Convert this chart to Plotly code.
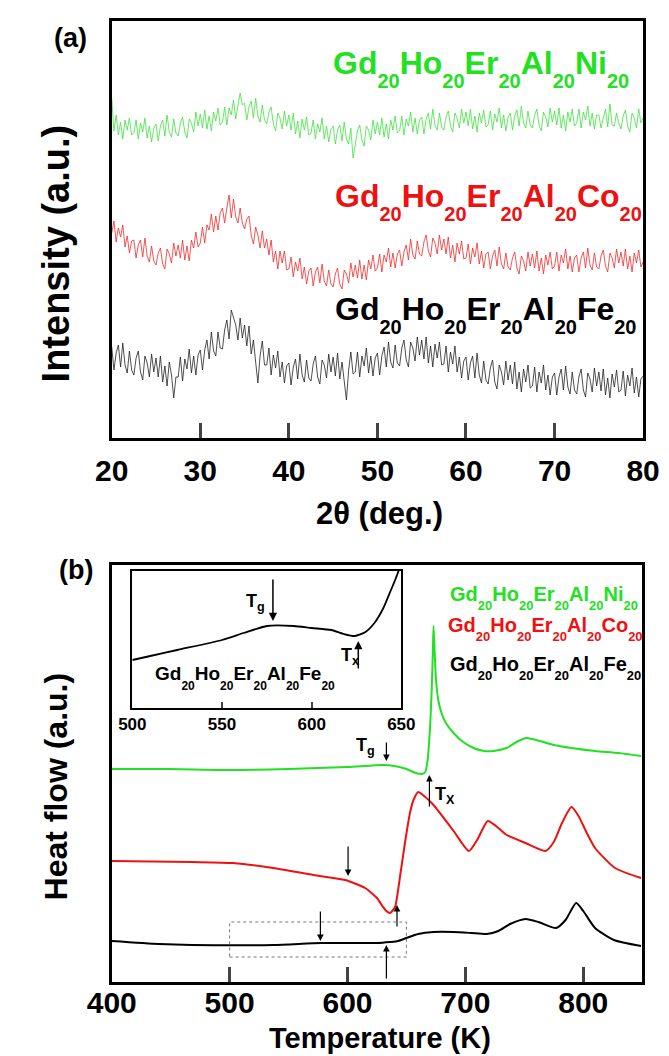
import plotly.graph_objects as go

# ---------------- (a) XRD data ----------------
two_theta = [20 + 0.25 * i for i in range(241)]  # measurement grid 20..80 deg, step 0.25

xrd_ni = [
    340, 307, 323, 303, 316, 299, 318, 308, 320, 303,
    305, 318, 299, 315, 306, 320, 300, 312, 296, 310,
    314, 297, 312, 318, 302, 323, 306, 301, 319, 305,
    302, 315, 321, 306, 300, 319, 315, 306, 326, 312,
    324, 310, 328, 309, 322, 307, 326, 317, 330, 313,
    316, 331, 313, 330, 323, 338, 319, 333, 345, 333,
    335, 318, 331, 337, 320, 340, 322, 316, 333, 318,
    314, 326, 331, 314, 307, 325, 320, 309, 327, 312,
    323, 308, 325, 304, 317, 300, 319, 308, 321, 303,
    305, 318, 299, 314, 306, 320, 299, 312, 296, 309,
    312, 294, 308, 313, 297, 316, 299, 294, 310, 280,
    293, 307, 313, 298, 292, 312, 308, 298, 318, 304,
    316, 303, 320, 301, 314, 299, 318, 308, 322, 305,
    307, 322, 303, 319, 312, 326, 306, 320, 304, 318,
    321, 304, 319, 325, 309, 329, 313, 308, 325, 311,
    308, 321, 327, 312, 306, 325, 320, 310, 329, 315,
    326, 312, 329, 309, 322, 306, 325, 315, 328, 311,
    313, 327, 308, 324, 316, 330, 310, 323, 307, 321,
    325, 308, 322, 328, 312, 332, 315, 310, 327, 313,
    310, 323, 329, 313, 307, 326, 321, 311, 330, 316,
    327, 313, 330, 310, 323, 307, 326, 316, 329, 312,
    315, 329, 310, 326, 318, 332, 312, 325, 309, 323,
    323, 310, 320, 329, 311, 334, 313, 312, 325, 315,
    309, 322, 328, 312, 306, 325, 320, 310, 329, 315,
    320,
]

xrd_co = [
    205, 217, 196, 210, 201, 213, 191, 202, 185, 197,
    198, 180, 193, 198, 181, 200, 182, 176, 192, 177,
    173, 185, 190, 174, 169, 189, 184, 175, 195, 182,
    193, 180, 198, 178, 192, 177, 198, 190, 206, 191,
    195, 211, 195, 213, 208, 224, 206, 222, 208, 225,
    230, 215, 230, 243, 220, 239, 221, 215, 230, 215,
    209, 219, 222, 203, 194, 211, 203, 190, 207, 190,
    199, 183, 198, 176, 187, 169, 187, 175, 187, 168,
    169, 181, 161, 176, 167, 180, 159, 171, 154, 167,
    170, 152, 166, 171, 155, 174, 157, 152, 168, 154,
    151, 164, 170, 154, 149, 168, 164, 155, 175, 161,
    173, 160, 178, 159, 173, 158, 178, 169, 183, 167,
    170, 184, 166, 183, 176, 190, 171, 185, 170, 184,
    188, 172, 186, 193, 178, 199, 183, 179, 197, 184,
    182, 196, 203, 187, 181, 200, 195, 184, 203, 188,
    199, 184, 201, 180, 193, 176, 195, 184, 197, 179,
    180, 194, 174, 190, 181, 195, 174, 187, 170, 184,
    186, 169, 182, 188, 172, 191, 174, 169, 185, 171,
    168, 180, 186, 170, 164, 182, 177, 167, 186, 172,
    184, 170, 187, 167, 180, 164, 183, 173, 186, 169,
    172, 186, 167, 183, 175, 189, 169, 182, 166, 180,
    183, 166, 180, 186, 170, 190, 173, 168, 185, 171,
    169, 182, 188, 172, 166, 185, 180, 170, 189, 175,
    186, 172, 189, 169, 182, 166, 185, 175, 188, 171,
    176,
]

xrd_fe = [
    91, 68, 85, 93, 71, 95, 73, 65, 87, 68,
    63, 80, 87, 66, 58, 82, 75, 61, 84, 66,
    80, 61, 82, 56, 72, 52, 76, 63, 40, 61,
    61, 81, 57, 79, 69, 89, 65, 82, 63, 83,
    88, 68, 88, 98, 79, 106, 87, 82, 106, 90,
    89, 108, 118, 99, 128, 119, 113, 98, 120, 100,
    113, 92, 112, 84, 98, 76, 55, 82, 97, 73,
    73, 90, 63, 83, 70, 87, 61, 76, 55, 72,
    75, 53, 71, 79, 59, 84, 63, 56, 78, 60,
    57, 74, 82, 61, 54, 78, 73, 60, 84, 66,
    81, 62, 85, 59, 76, 57, 38, 68, 86, 64,
    66, 86, 61, 82, 72, 90, 65, 82, 62, 80,
    85, 63, 82, 91, 71, 96, 76, 70, 93, 75,
    72, 90, 98, 78, 71, 96, 90, 77, 101, 83,
    98, 79, 101, 75, 92, 71, 94, 80, 96, 73,
    74, 92, 66, 86, 74, 92, 66, 81, 60, 77,
    81, 58, 75, 82, 60, 85, 63, 55, 77, 58,
    54, 70, 78, 56, 49, 73, 66, 53, 77, 58,
    73, 54, 76, 49, 66, 46, 69, 56, 73, 50,
    52, 71, 46, 66, 55, 73, 48, 63, 43, 61,
    65, 43, 61, 69, 48, 72, 51, 44, 66, 48,
    44, 61, 69, 48, 41, 65, 59, 46, 70, 52,
    66, 47, 69, 43, 60, 40, 64, 51, 68, 46,
    48, 67, 42, 63, 52, 70, 45, 61, 41, 59,
    62,
]

# ---------------- (b) DSC data ----------------
t_ni = [400, 450, 500, 550, 600, 630, 640, 650, 658, 663, 666, 668, 670, 671.5, 672.5, 673,
        674, 675, 677, 680, 684, 690, 697, 707, 716, 724, 735, 745, 752, 760, 775, 790, 810, 830, 849]
hf_ni = [2.13, 2.13, 2.12, 2.13, 2.15, 2.17, 2.16, 2.13, 2.09, 2.08, 2.10, 2.22, 2.54, 2.94, 3.34, 3.56,
         3.29, 3.04, 2.82, 2.68, 2.58, 2.49, 2.41, 2.34, 2.31, 2.31, 2.34, 2.41, 2.44, 2.42, 2.37, 2.34, 2.31, 2.29, 2.26]

t_co = [400, 468, 503, 537, 571, 598, 615, 625, 629, 633, 636, 638, 640.6, 645, 649, 653, 656, 660, 664,
        673, 690, 703, 710, 719, 726, 735, 751, 768, 775, 782, 790, 796, 803, 810, 827, 849]
hf_co = [1.21, 1.20, 1.19, 1.14, 1.07, 1.02, 0.94, 0.84, 0.77, 0.71, 0.69, 0.71, 0.76, 1.09, 1.41, 1.69, 1.82, 1.90, 1.87,
         1.77, 1.51, 1.31, 1.42, 1.61, 1.56, 1.47, 1.39, 1.31, 1.40, 1.59, 1.75, 1.66, 1.49, 1.34, 1.14, 1.04]

t_fe = [400, 440, 468, 537, 578, 625, 636, 643, 650, 660, 673, 690, 705, 718, 728, 738, 751, 762, 777,
        785, 794, 800, 810, 826, 849]
hf_fe = [0.41, 0.38, 0.37, 0.37, 0.39, 0.39, 0.40, 0.41, 0.44, 0.48, 0.50, 0.50, 0.49, 0.48, 0.51, 0.58, 0.63, 0.60, 0.54,
         0.62, 0.79, 0.71, 0.54, 0.42, 0.36]

# inset (zoom on Fe alloy)
t_inset = [500, 510, 525, 550, 562, 575, 590, 600, 611, 618, 624, 630, 635, 640, 644, 647, 650]
hf_inset = [0.48, 0.52, 0.58, 0.68, 0.75, 0.82, 0.82, 0.80, 0.78, 0.74, 0.72, 0.76, 0.85, 1.00, 1.17, 1.30, 1.45]

# Tg / Tx markers: (temperature, tail value, head value)
dsc_arrows = [
    (633, 2.41, 2.21),    # Ni Tg
    (669.5, 1.74, 2.07),  # Ni Tx
    (600.5, 1.37, 1.06),  # Co Tg
    (642, 0.54, 0.77),    # Co Tx
    (577, 0.72, 0.41),    # Fe Tg
    (633, 0.02, 0.37),    # Fe Tx
]
inset_arrows = [(578.4, 1.30, 0.87), (626, 0.38, 0.67)]
zoom_box = [500, 650, 0.25, 0.60]

GREEN_L = "#3ee23e"
RED_L = "#f22a2a"
GREEN = "#22e022"
RED = "#ee1111"
FONT = "Liberation Sans, Arial, sans-serif"

elements = ["Gd", "Ho", "Er", "Al"]
last_el = {"ni": "Ni", "co": "Co", "fe": "Fe"}


def formula(key, sub_size, shift):
    parts = elements + [last_el[key]]
    s = ""
    for p in parts:
        s += p + '<sub><span style="font-size:%dpx;baseline-shift:-%dpx">20</span></sub>' % (sub_size, shift)
    return s


fig = go.Figure()
fig.add_trace(go.Scatter(x=two_theta, y=xrd_ni, mode="lines", line=dict(color=GREEN_L, width=0.8), xaxis="x", yaxis="y"))
fig.add_trace(go.Scatter(x=two_theta, y=xrd_co, mode="lines", line=dict(color=RED_L, width=0.8), xaxis="x", yaxis="y"))
fig.add_trace(go.Scatter(x=two_theta, y=xrd_fe, mode="lines", line=dict(color="#222222", width=0.8), xaxis="x", yaxis="y"))

fig.add_trace(go.Scatter(x=t_ni, y=hf_ni, mode="lines", line=dict(color=GREEN, width=2, shape="spline", smoothing=0.6), xaxis="x2", yaxis="y2"))
fig.add_trace(go.Scatter(x=t_co, y=hf_co, mode="lines", line=dict(color=RED, width=2, shape="spline", smoothing=0.6), xaxis="x2", yaxis="y2"))
fig.add_trace(go.Scatter(x=t_fe, y=hf_fe, mode="lines", line=dict(color="black", width=2, shape="spline", smoothing=0.6), xaxis="x2", yaxis="y2"))
fig.add_trace(go.Scatter(x=t_inset, y=hf_inset, mode="lines", line=dict(color="black", width=1.8, shape="spline", smoothing=0.6), xaxis="x3", yaxis="y3"))

W, H = 669, 1056
def px(x):
    return x / W
def py(y):
    return 1 - y / H

axis_common = dict(showgrid=False, zeroline=False, showline=True, linecolor="black", mirror=True)
fig.update_layout(
    width=W, height=H, margin=dict(l=0, r=0, t=0, b=0),
    paper_bgcolor="white", plot_bgcolor="white", showlegend=False,
    font=dict(family=FONT, color="black"),
    xaxis=dict(domain=[px(84), px(651)], range=[20, 80], tickvals=[20, 30, 40, 50, 60, 70, 80],
               ticks="inside", ticklen=15, tickwidth=3, linewidth=3, anchor="y",
               tickfont=dict(size=30, family=FONT, weight="bold"), ticklabelstandoff=4, **axis_common),
    yaxis=dict(domain=[py(430), py(13)], range=[0, 417], showticklabels=False, ticks="", linewidth=3, anchor="x", **axis_common),
    xaxis2=dict(domain=[px(84), px(650)], range=[400, 850], tickvals=[400, 500, 600, 700, 800],
                ticks="inside", ticklen=15, tickwidth=3, linewidth=3, anchor="y2",
                tickfont=dict(size=30, family=FONT, weight="bold"), ticklabelstandoff=-8, **axis_common),
    yaxis2=dict(domain=[py(974), py(557)], range=[0, 4.17], showticklabels=False, ticks="", linewidth=3, anchor="x2", **axis_common),
    xaxis3=dict(domain=[px(106), px(393)], range=[500, 650], tickvals=[500, 550, 600, 650],
                ticks="inside", ticklen=6, tickwidth=2, linewidth=2, anchor="y3",
                tickfont=dict(size=17, family=FONT, weight="bold"), ticklabelstandoff=0, **axis_common),
    yaxis3=dict(domain=[py(700), py(563)], range=[0, 1.37], showticklabels=False, ticks="", linewidth=2, anchor="x3", **axis_common),
)

ann = []
def txt(text, x, y, size, color="black", xref="paper", yref="paper", xanchor="center", yanchor="middle", angle=0):
    ann.append(dict(text=text, x=x, y=y, xref=xref, yref=yref, xanchor=xanchor, yanchor=yanchor,
                    showarrow=False, textangle=angle,
                    font=dict(family=FONT, size=size, color=color, weight="bold")))

# panel labels and axis titles
txt("(a)", px(40), py(30), 27)
txt("(b)", px(46), py(562), 27)
txt("Intensity (a.u.)", px(25), py(245), 38, angle=-90)
txt("Heat flow (a.u.)", px(25), py(778), 32, angle=-90)
txt("2θ (deg.)", px(370), py(505), 31)
txt("Temperature (K)", px(370), py(1030), 29)

# XRD labels
txt(formula("ni", 20, 7), 44.8, 370, 32, GREEN, "x", "y", xanchor="left")
txt(formula("co", 20, 7), 45.0, 237, 32, RED, "x", "y", xanchor="left")
txt(formula("fe", 20, 7), 45.0, 124, 32, "black", "x", "y", xanchor="left")

# DSC labels
txt(formula("ni", 13, 5), 685.5, 3.84, 20, GREEN, "x2", "y2", xanchor="left")
txt(formula("co", 13, 5), 683.5, 3.53, 20, RED, "x2", "y2", xanchor="left")
txt(formula("fe", 13, 5), 685.0, 3.14, 20, "black", "x2", "y2", xanchor="left")
txt("T<sub>g</sub>", 615, 2.36, 18, "black", "x2", "y2")
txt("T<sub>X</sub>", 683, 1.87, 18, "black", "x2", "y2")

# inset labels
txt(formula("fe", 12, 6), 511.5, 0.30, 19, "black", "x3", "y3", xanchor="left")
txt("T<sub>g</sub>", 568.5, 1.06, 18, "black", "x3", "y3")
txt("T<sub>x</sub>", 621.5, 0.52, 18, "black", "x3", "y3")

for t, tail, head in dsc_arrows:
    ann.append(dict(x=t, y=head, ax=t, ay=tail, xref="x2", yref="y2", axref="x2", ayref="y2",
                    text="", showarrow=True, arrowhead=2, arrowsize=1.1, arrowwidth=1.2, arrowcolor="black"))
for t, tail, head in inset_arrows:
    ann.append(dict(x=t, y=head, ax=t, ay=tail, xref="x3", yref="y3", axref="x3", ayref="y3",
                    text="", showarrow=True, arrowhead=2, arrowsize=1.1, arrowwidth=1.5, arrowcolor="black"))

fig.update_layout(annotations=ann)
fig.add_shape(type="rect", xref="x2", yref="y2", x0=zoom_box[0], x1=zoom_box[1], y0=zoom_box[2], y1=zoom_box[3],
              line=dict(color="#777777", width=1, dash="dot"))

fig.write_html("out.html")
